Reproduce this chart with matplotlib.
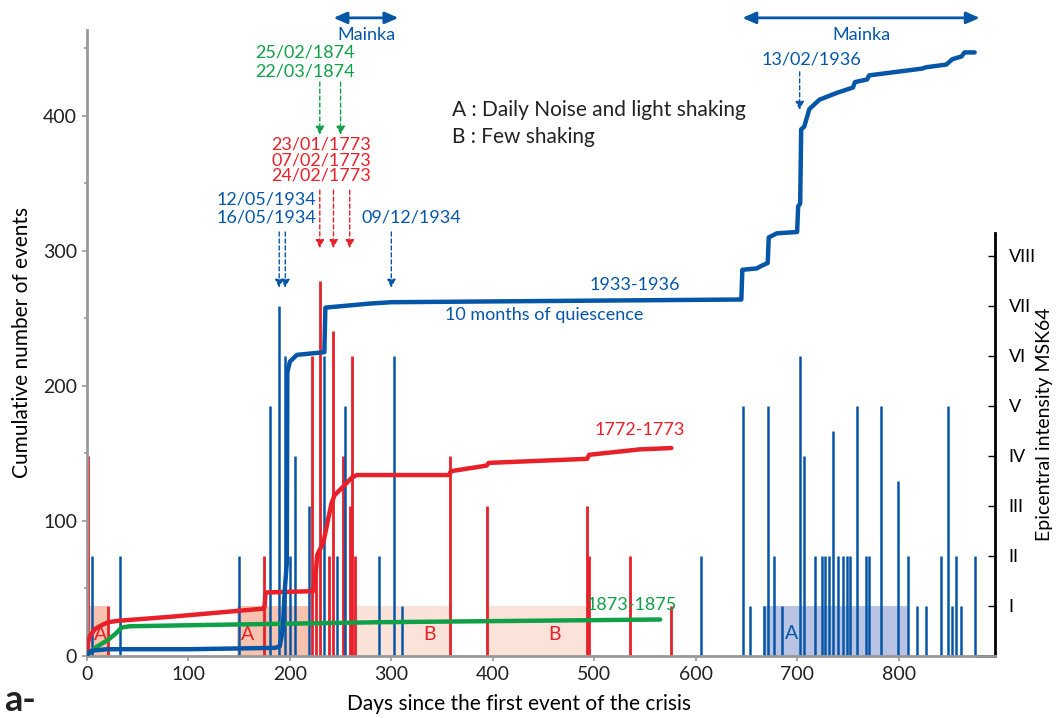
import matplotlib.pyplot as plt
from matplotlib.patches import Rectangle

plt.rcParams['font.family'] = ['Lato', 'DejaVu Sans']

# couleurs
RED = '#e8202a'
BLUE = '#0656a8'
GREEN = '#10a048'

# intensites epicentrales (MSK64) par crise
red_days = [0, 1, 21, 175, 222, 226, 230, 239, 243, 252, 259, 261, 264, 358, 394, 493, 495, 535, 576]
red_int = [2, 4, 1, 2, 6, 2, 7.5, 2, 6.5, 4, 3, 6, 2, 4, 3, 3, 2, 2, 1]

blue_days = [5, 33, 150, 180, 189, 195, 200, 205, 219, 234, 246, 254, 288, 303, 311,
             605, 647, 654, 667, 671, 677, 685, 703, 707, 718, 725, 727, 731, 735, 740,
             745, 749, 752, 759, 768, 771, 783, 799, 809, 818, 827, 842, 849, 853, 857,
             862, 875]
blue_int = [2, 2, 2, 5, 7, 6, 2, 4, 3, 6, 2, 5, 2, 6, 1,
            2, 5, 1, 1, 5, 2, 1, 6, 4, 2, 2, 2, 2, 4.5, 2,
            2, 2, 2, 5, 2, 2, 5, 3.5, 2, 1, 1, 2, 5, 1, 2,
            1, 2]

# nombre cumule d'evenements
red_x = [0, 1, 3, 8, 15, 21, 30, 82, 173, 175, 176, 223, 226, 227, 233, 241, 244, 252,
         261, 266, 357, 358, 360, 394, 396, 493, 495, 545, 576]
red_y = [3, 10, 15, 20, 23, 25, 26, 29, 35, 36, 47, 48, 66, 75, 84, 113, 119, 125,
         132, 134, 134, 136, 137, 141, 143, 146, 149, 153, 154]

green_x = [0, 10, 21, 29, 34, 42, 121, 289, 565]
green_y = [1, 7, 12, 17, 21, 22, 23, 25, 27]

blue_x = [0, 5, 20, 100, 185, 190, 193, 195, 197, 197.5, 200, 207, 234, 235, 279, 300,
          645, 646, 660, 665, 671, 672, 680, 700, 701, 703, 704, 707, 712, 722, 739,
          755, 757, 769, 771, 823, 827, 847, 853, 862, 865, 875]
blue_y = [1, 4, 5, 5, 6, 7, 19, 49, 69, 210, 218, 223, 225, 258, 261, 262,
          264, 286, 287, 289, 291, 310, 313, 314, 333, 335, 390, 392, 405, 412, 417,
          421, 425, 427, 430, 435, 436, 438, 442, 444, 447, 447]

# periodes A / B (debut, fin)
red_A = [(3, 21), (148, 220)]
red_B = [(266, 358), (394, 493)]
blue_A = [(666, 809)]

roman = ['I', 'II', 'III', 'IV', 'V', 'VI', 'VII', 'VIII']

fig = plt.figure(figsize=(10.63, 7.18), dpi=100)
ax = fig.add_axes([0.0818, 0.0864, 0.8542, 0.872])
ax2 = ax.twinx()
ax.set_zorder(ax2.get_zorder() + 1)
ax.patch.set_visible(False)

# periodes et barres d'intensite (axe droit)
for a, b in red_A:
    ax2.add_patch(Rectangle((a, 0), b - a, 1, color='#f7c3ae', lw=0, zorder=1))
for a, b in red_B:
    ax2.add_patch(Rectangle((a, 0), b - a, 1, color='#fce3d9', lw=0, zorder=1))
for a, b in blue_A:
    ax2.add_patch(Rectangle((a, 0), b - a, 1, color='#b9c3e3', lw=0, zorder=1))
for xa in [13, 158]:
    ax2.text(xa, 0.42, 'A', color=RED, ha='center', va='center', fontsize=14)
for xb in [338, 461]:
    ax2.text(xb, 0.42, 'B', color=RED, ha='center', va='center', fontsize=14)
ax2.text(695, 0.45, 'A', color=BLUE, ha='center', va='center', fontsize=14)

ax2.vlines(red_days, 0, red_int, color=RED, lw=2, zorder=2)
ax2.vlines(blue_days, 0, blue_int, color=BLUE, lw=1.8, zorder=2)

ax2.set_ylim(0, 12.52)
ax2.set_yticks(range(1, 9))
ax2.set_yticklabels(roman, fontsize=13)
ax2.tick_params(axis='y', direction='in', length=5, width=1, pad=10)
ax2.spines['right'].set_bounds(0, 8.46)
ax2.spines['right'].set_linewidth(2)
ax2.spines['bottom'].set_bounds(876, 895)
ax2.spines['bottom'].set_linewidth(2)
ax2.spines['bottom'].set_zorder(3)
for s in ['top', 'left']:
    ax2.spines[s].set_visible(False)
ax2.set_ylabel('Epicentral intensity MSK64', fontsize=14)
ax2.yaxis.set_label_coords(1.045, 0.37)

# courbes cumulees (axe gauche)
ax.plot(red_x, red_y, color=RED, lw=3.2, solid_capstyle='round', zorder=5)
ax.plot(green_x, green_y, color=GREEN, lw=3.2, solid_capstyle='round', zorder=5)
ax.plot(blue_x, blue_y, color=BLUE, lw=3.2, solid_capstyle='round', zorder=5)

ax.set_xlim(0, 895)
ax.set_ylim(0, 463.7)
ax.set_xticks(range(0, 900, 100))
ax.set_yticks(range(0, 500, 100))
ax.set_yticks(range(50, 500, 100), minor=True)
ax.tick_params(labelsize=14, colors='#999999', labelcolor='#222222', width=1.2)
ax.tick_params(which='minor', colors='#999999', width=1.2)
for s in ['top', 'right']:
    ax.spines[s].set_visible(False)
for s in ['left', 'bottom']:
    ax.spines[s].set_color('#999999')
    ax.spines[s].set_linewidth(2)
ax.set_xlabel('Days since the first event of the crisis', fontsize=15)
ax.xaxis.set_label_coords(0.476, -0.06)
ax.set_ylabel('Cumulative number of events', fontsize=15, labelpad=8)

# fleches et dates
def fleche(x, y0, y1, col):
    ax.annotate('', xy=(x, y1), xytext=(x, y0), annotation_clip=False,
                arrowprops=dict(arrowstyle='-|>,head_length=0.5,head_width=0.25',
                                color=col, lw=1, linestyle=(0, (3, 2)),
                                shrinkA=0, shrinkB=0))

for a, b in [(243, 307), (646, 880)]:
    ax.annotate('', xy=(b, 472.6), xytext=(a, 472.6), annotation_clip=False,
                arrowprops=dict(arrowstyle='<|-|>,head_length=0.8,head_width=0.35',
                                color=BLUE, lw=2, shrinkA=0, shrinkB=0))
    ax.text((a + b) / 2, 460, 'Mainka', color=BLUE, ha='center', va='center', fontsize=13)

ax.text(215, 447, '25/02/1874', color=GREEN, ha='center', va='center', fontsize=13)
ax.text(215, 432.6, '22/03/1874', color=GREEN, ha='center', va='center', fontsize=13)
for d in [229.5, 250]:
    fleche(d, 425, 386, GREEN)

for i, t in enumerate(['23/01/1773', '07/02/1773', '24/02/1773']):
    ax.text(231, 378.5 - 11.2 * i, t, color=RED, ha='center', va='center', fontsize=13)
for d in [229.5, 243, 259]:
    fleche(d, 345, 302, RED)

ax.text(177, 338, '12/05/1934', color=BLUE, ha='center', va='center', fontsize=13)
ax.text(177, 325, '16/05/1934', color=BLUE, ha='center', va='center', fontsize=13)
for d in [189.5, 195.5]:
    fleche(d, 314, 272.6, BLUE)
ax.text(320, 325, '09/12/1934', color=BLUE, ha='center', va='center', fontsize=13)
fleche(300, 314, 272.6, BLUE)
ax.text(714, 441.5, '13/02/1936', color=BLUE, ha='center', va='center', fontsize=13)
fleche(702.5, 432.6, 404.4, BLUE)

ax.text(359.6, 404.4, 'A : Daily Noise and light shaking', color='#222222', va='center', fontsize=15)
ax.text(359.6, 384.4, 'B : Few shaking', color='#222222', va='center', fontsize=15)

ax.text(540, 274.8, '1933-1936', color=BLUE, ha='center', va='center', fontsize=13)
ax.text(451, 252.6, '10 months of quiescence', color=BLUE, ha='center', va='center', fontsize=13)
ax.text(545, 167.4, '1772-1773', color=RED, ha='center', va='center', fontsize=13)
ax.text(537, 37.8, '1873-1875', color=GREEN, ha='center', va='center', fontsize=13)

fig.text(0.004, 0.01, 'a-', fontsize=26, fontweight='bold', color='#222222')

fig.savefig('out.png', dpi=100)
